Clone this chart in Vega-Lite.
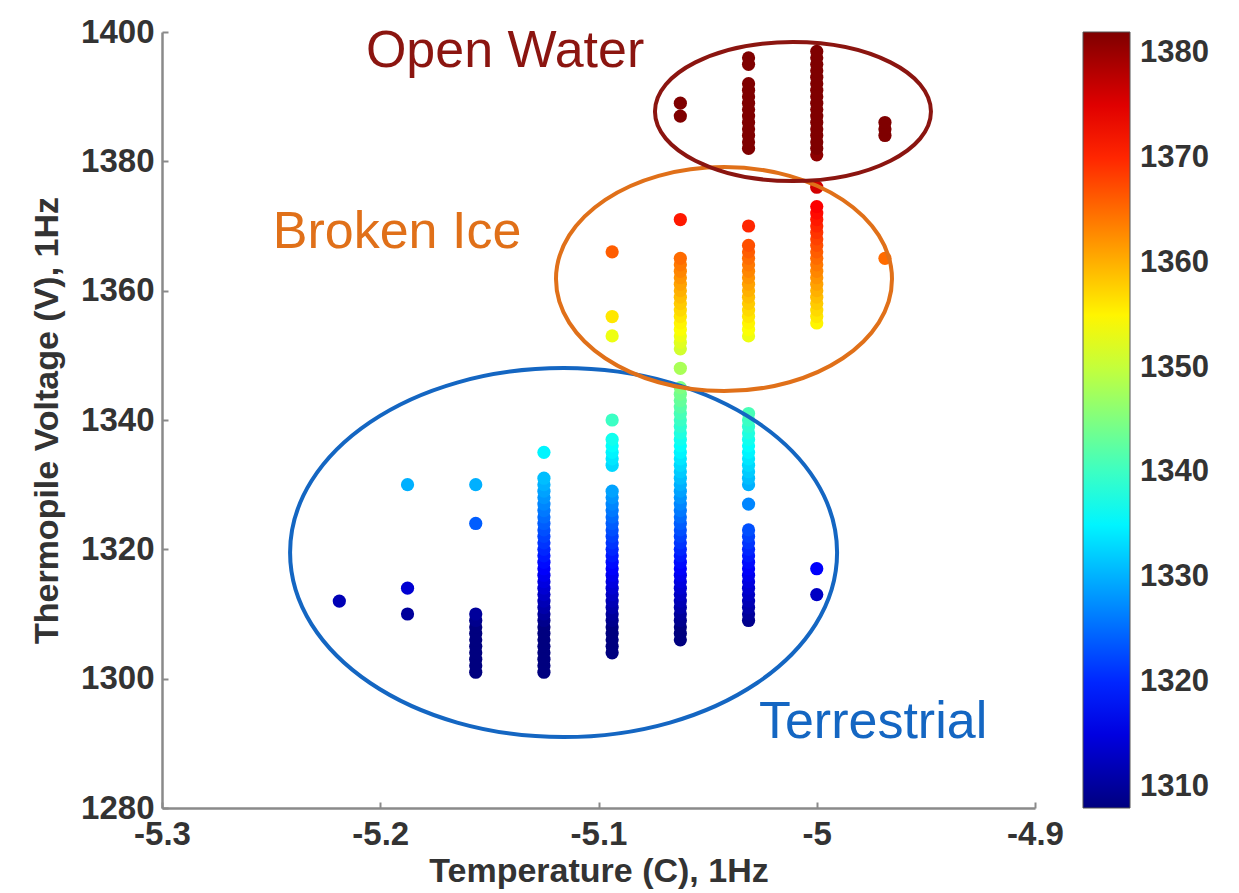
{
  "$schema": "https://vega.github.io/schema/vega-lite/v6.json",
  "width": 873,
  "height": 776,
  "autosize": {"type": "none"},
  "padding": {"left": 162, "top": 32, "right": 204, "bottom": 85},
  "background": "white",
  "config": {
    "view": {"stroke": null},
    "font": "Liberation Sans",
    "axis": {
      "grid": false,
      "labelFlush": false,
      "domainColor": "#8a8a8a",
      "domainWidth": 2.5,
      "tickColor": "#8a8a8a",
      "tickWidth": 2,
      "tickSize": -6,
      "labelFont": "Liberation Sans",
      "labelFontWeight": "bold",
      "labelFontSize": 33,
      "labelColor": "#333333",
      "titleFont": "Liberation Sans",
      "titleFontWeight": "bold",
      "titleFontSize": 34,
      "titleColor": "#333333"
    }
  },
  "datasets": {
    "points": [
      {"t": -5.21875, "v": 1312},
      {"t": -5.1875, "v": 1310}, {"t": -5.1875, "v": 1314}, {"t": -5.1875, "v": 1330},
      {"t": -5.15625, "v": 1301}, {"t": -5.15625, "v": 1302}, {"t": -5.15625, "v": 1303}, {"t": -5.15625, "v": 1304}, {"t": -5.15625, "v": 1305},
      {"t": -5.15625, "v": 1306}, {"t": -5.15625, "v": 1307}, {"t": -5.15625, "v": 1308}, {"t": -5.15625, "v": 1309}, {"t": -5.15625, "v": 1310},
      {"t": -5.15625, "v": 1324}, {"t": -5.15625, "v": 1330},
      {"t": -5.125, "v": 1301}, {"t": -5.125, "v": 1302}, {"t": -5.125, "v": 1303}, {"t": -5.125, "v": 1304}, {"t": -5.125, "v": 1305},
      {"t": -5.125, "v": 1306}, {"t": -5.125, "v": 1307}, {"t": -5.125, "v": 1308}, {"t": -5.125, "v": 1309}, {"t": -5.125, "v": 1310},
      {"t": -5.125, "v": 1311}, {"t": -5.125, "v": 1312}, {"t": -5.125, "v": 1313}, {"t": -5.125, "v": 1314}, {"t": -5.125, "v": 1315},
      {"t": -5.125, "v": 1316}, {"t": -5.125, "v": 1317}, {"t": -5.125, "v": 1318}, {"t": -5.125, "v": 1319}, {"t": -5.125, "v": 1320},
      {"t": -5.125, "v": 1321}, {"t": -5.125, "v": 1322}, {"t": -5.125, "v": 1323}, {"t": -5.125, "v": 1324}, {"t": -5.125, "v": 1325},
      {"t": -5.125, "v": 1326}, {"t": -5.125, "v": 1327}, {"t": -5.125, "v": 1328}, {"t": -5.125, "v": 1329}, {"t": -5.125, "v": 1330},
      {"t": -5.125, "v": 1331}, {"t": -5.125, "v": 1335},
      {"t": -5.09375, "v": 1304}, {"t": -5.09375, "v": 1305}, {"t": -5.09375, "v": 1306}, {"t": -5.09375, "v": 1307}, {"t": -5.09375, "v": 1308},
      {"t": -5.09375, "v": 1309}, {"t": -5.09375, "v": 1310}, {"t": -5.09375, "v": 1311}, {"t": -5.09375, "v": 1312}, {"t": -5.09375, "v": 1313},
      {"t": -5.09375, "v": 1314}, {"t": -5.09375, "v": 1315}, {"t": -5.09375, "v": 1316}, {"t": -5.09375, "v": 1317}, {"t": -5.09375, "v": 1318},
      {"t": -5.09375, "v": 1319}, {"t": -5.09375, "v": 1320}, {"t": -5.09375, "v": 1321}, {"t": -5.09375, "v": 1322}, {"t": -5.09375, "v": 1323},
      {"t": -5.09375, "v": 1324}, {"t": -5.09375, "v": 1325}, {"t": -5.09375, "v": 1326}, {"t": -5.09375, "v": 1327}, {"t": -5.09375, "v": 1328},
      {"t": -5.09375, "v": 1329}, {"t": -5.09375, "v": 1333}, {"t": -5.09375, "v": 1334}, {"t": -5.09375, "v": 1335}, {"t": -5.09375, "v": 1336},
      {"t": -5.09375, "v": 1337}, {"t": -5.09375, "v": 1340}, {"t": -5.09375, "v": 1353}, {"t": -5.09375, "v": 1356}, {"t": -5.09375, "v": 1366},
      {"t": -5.0625, "v": 1306}, {"t": -5.0625, "v": 1307}, {"t": -5.0625, "v": 1308}, {"t": -5.0625, "v": 1309}, {"t": -5.0625, "v": 1310},
      {"t": -5.0625, "v": 1311}, {"t": -5.0625, "v": 1312}, {"t": -5.0625, "v": 1313}, {"t": -5.0625, "v": 1314}, {"t": -5.0625, "v": 1315},
      {"t": -5.0625, "v": 1316}, {"t": -5.0625, "v": 1317}, {"t": -5.0625, "v": 1318}, {"t": -5.0625, "v": 1319}, {"t": -5.0625, "v": 1320},
      {"t": -5.0625, "v": 1321}, {"t": -5.0625, "v": 1322}, {"t": -5.0625, "v": 1323}, {"t": -5.0625, "v": 1324}, {"t": -5.0625, "v": 1325},
      {"t": -5.0625, "v": 1326}, {"t": -5.0625, "v": 1327}, {"t": -5.0625, "v": 1328}, {"t": -5.0625, "v": 1329}, {"t": -5.0625, "v": 1330},
      {"t": -5.0625, "v": 1331}, {"t": -5.0625, "v": 1332}, {"t": -5.0625, "v": 1333}, {"t": -5.0625, "v": 1334}, {"t": -5.0625, "v": 1335},
      {"t": -5.0625, "v": 1336}, {"t": -5.0625, "v": 1337}, {"t": -5.0625, "v": 1338}, {"t": -5.0625, "v": 1339}, {"t": -5.0625, "v": 1340},
      {"t": -5.0625, "v": 1341}, {"t": -5.0625, "v": 1342}, {"t": -5.0625, "v": 1343}, {"t": -5.0625, "v": 1344}, {"t": -5.0625, "v": 1345},
      {"t": -5.0625, "v": 1348}, {"t": -5.0625, "v": 1351}, {"t": -5.0625, "v": 1352}, {"t": -5.0625, "v": 1353}, {"t": -5.0625, "v": 1354},
      {"t": -5.0625, "v": 1355}, {"t": -5.0625, "v": 1356}, {"t": -5.0625, "v": 1357}, {"t": -5.0625, "v": 1358}, {"t": -5.0625, "v": 1359},
      {"t": -5.0625, "v": 1360}, {"t": -5.0625, "v": 1361}, {"t": -5.0625, "v": 1362}, {"t": -5.0625, "v": 1363}, {"t": -5.0625, "v": 1364},
      {"t": -5.0625, "v": 1365}, {"t": -5.0625, "v": 1371}, {"t": -5.0625, "v": 1387}, {"t": -5.0625, "v": 1389},
      {"t": -5.03125, "v": 1309}, {"t": -5.03125, "v": 1310}, {"t": -5.03125, "v": 1311}, {"t": -5.03125, "v": 1312}, {"t": -5.03125, "v": 1313},
      {"t": -5.03125, "v": 1314}, {"t": -5.03125, "v": 1315}, {"t": -5.03125, "v": 1316}, {"t": -5.03125, "v": 1317}, {"t": -5.03125, "v": 1318},
      {"t": -5.03125, "v": 1319}, {"t": -5.03125, "v": 1320}, {"t": -5.03125, "v": 1321}, {"t": -5.03125, "v": 1322}, {"t": -5.03125, "v": 1323},
      {"t": -5.03125, "v": 1327}, {"t": -5.03125, "v": 1330}, {"t": -5.03125, "v": 1331}, {"t": -5.03125, "v": 1332}, {"t": -5.03125, "v": 1333},
      {"t": -5.03125, "v": 1334}, {"t": -5.03125, "v": 1335}, {"t": -5.03125, "v": 1336}, {"t": -5.03125, "v": 1337}, {"t": -5.03125, "v": 1338},
      {"t": -5.03125, "v": 1339}, {"t": -5.03125, "v": 1340}, {"t": -5.03125, "v": 1341},
      {"t": -5.03125, "v": 1353}, {"t": -5.03125, "v": 1354}, {"t": -5.03125, "v": 1355}, {"t": -5.03125, "v": 1356}, {"t": -5.03125, "v": 1357},
      {"t": -5.03125, "v": 1358}, {"t": -5.03125, "v": 1359}, {"t": -5.03125, "v": 1360}, {"t": -5.03125, "v": 1361}, {"t": -5.03125, "v": 1362},
      {"t": -5.03125, "v": 1363}, {"t": -5.03125, "v": 1364}, {"t": -5.03125, "v": 1365}, {"t": -5.03125, "v": 1366}, {"t": -5.03125, "v": 1367},
      {"t": -5.03125, "v": 1370},
      {"t": -5.03125, "v": 1382}, {"t": -5.03125, "v": 1383}, {"t": -5.03125, "v": 1384}, {"t": -5.03125, "v": 1385}, {"t": -5.03125, "v": 1386},
      {"t": -5.03125, "v": 1387}, {"t": -5.03125, "v": 1388}, {"t": -5.03125, "v": 1389}, {"t": -5.03125, "v": 1390}, {"t": -5.03125, "v": 1391},
      {"t": -5.03125, "v": 1392}, {"t": -5.03125, "v": 1395}, {"t": -5.03125, "v": 1396},
      {"t": -5.0, "v": 1313}, {"t": -5.0, "v": 1317},
      {"t": -5.0, "v": 1355}, {"t": -5.0, "v": 1356}, {"t": -5.0, "v": 1357}, {"t": -5.0, "v": 1358}, {"t": -5.0, "v": 1359},
      {"t": -5.0, "v": 1360}, {"t": -5.0, "v": 1361}, {"t": -5.0, "v": 1362}, {"t": -5.0, "v": 1363}, {"t": -5.0, "v": 1364},
      {"t": -5.0, "v": 1365}, {"t": -5.0, "v": 1366}, {"t": -5.0, "v": 1367}, {"t": -5.0, "v": 1368}, {"t": -5.0, "v": 1369},
      {"t": -5.0, "v": 1370}, {"t": -5.0, "v": 1371}, {"t": -5.0, "v": 1372}, {"t": -5.0, "v": 1373}, {"t": -5.0, "v": 1376},
      {"t": -5.0, "v": 1381}, {"t": -5.0, "v": 1382}, {"t": -5.0, "v": 1383}, {"t": -5.0, "v": 1384}, {"t": -5.0, "v": 1385},
      {"t": -5.0, "v": 1386}, {"t": -5.0, "v": 1387}, {"t": -5.0, "v": 1388}, {"t": -5.0, "v": 1389}, {"t": -5.0, "v": 1390},
      {"t": -5.0, "v": 1391}, {"t": -5.0, "v": 1392}, {"t": -5.0, "v": 1393}, {"t": -5.0, "v": 1394}, {"t": -5.0, "v": 1395},
      {"t": -5.0, "v": 1396}, {"t": -5.0, "v": 1397},
      {"t": -4.96875, "v": 1365}, {"t": -4.96875, "v": 1384}, {"t": -4.96875, "v": 1385}, {"t": -4.96875, "v": 1386}
    ],
    "regions": [
      {"region": "Terrestrial", "ct": -5.116, "cv": 1319.5, "lt": -4.9742, "lv": 1290.8},
      {"region": "Broken Ice", "ct": -5.0425, "cv": 1361.8, "lt": -5.1923, "lv": 1366.6},
      {"region": "Open Water", "ct": -5.0109, "cv": 1387.7, "lt": -5.1428, "lv": 1394.6}
    ]
  },
  "layer": [
    {
      "data": {"name": "points"},
      "mark": {"type": "circle", "size": 175, "opacity": 1},
      "encoding": {
        "x": {
          "field": "t", "type": "quantitative",
          "scale": {"domain": [-5.3, -4.9], "nice": false, "zero": false},
          "axis": {
            "values": [-5.3, -5.2, -5.1, -5.0, -4.9],
            "labelExpr": "replace(format(datum.value, '.1~f'), '\u2212', '-')",
            "labelPadding": 16,
            "title": "Temperature (C), 1Hz",
            "titlePadding": 3
          }
        },
        "y": {
          "field": "v", "type": "quantitative",
          "scale": {"domain": [1280, 1400], "nice": false, "zero": false},
          "axis": {
            "values": [1280, 1300, 1320, 1340, 1360, 1380, 1400],
            "format": "d",
            "labelPadding": 14,
            "title": "Thermopile Voltage (V), 1Hz",
            "titlePadding": 16
          }
        },
        "color": {
          "field": "v", "type": "quantitative",
          "scale": {
            "domain": [1308, 1317.25, 1335.75, 1354.25, 1372.75, 1382],
            "range": ["#00007F", "#0000FF", "#00FFFF", "#FFFF00", "#FF0000", "#7F0000"],
            "interpolate": "rgb",
            "clamp": true
          },
          "legend": {
            "title": null,
            "orient": "right",
            "offset": 48,
            "padding": 0,
            "direction": "vertical",
            "gradientLength": 776,
            "gradientThickness": 47,
            "gradientStrokeColor": "#555555",
            "gradientStrokeWidth": 1,
            "values": [1310, 1320, 1330, 1340, 1350, 1360, 1370, 1380],
            "format": "d",
            "labelFont": "Liberation Sans",
            "labelFontWeight": "bold",
            "labelFontSize": 31,
            "labelColor": "#333333",
            "labelOffset": 10
          }
        }
      }
    },
    {
      "data": {"name": "regions"},
      "transform": [{"filter": "datum.region === 'Terrestrial'"}],
      "mark": {"type": "point", "filled": false, "shape": "M-1,0A1,0.6746,0,0,1,1,0A1,0.6746,0,0,1,-1,0Z", "size": 299209, "stroke": "#1466C2", "strokeWidth": 4, "opacity": 1},
      "encoding": {"x": {"field": "ct", "type": "quantitative"}, "y": {"field": "cv", "type": "quantitative"}}
    },
    {
      "data": {"name": "regions"},
      "transform": [{"filter": "datum.region === 'Broken Ice'"}],
      "mark": {"type": "point", "filled": false, "shape": "M-1,0A1,0.6667,0,0,1,1,0A1,0.6667,0,0,1,-1,0Z", "size": 112896, "stroke": "#E07019", "strokeWidth": 4, "opacity": 1},
      "encoding": {"x": {"field": "ct", "type": "quantitative"}, "y": {"field": "cv", "type": "quantitative"}}
    },
    {
      "data": {"name": "regions"},
      "transform": [{"filter": "datum.region === 'Open Water'"}],
      "mark": {"type": "point", "filled": false, "shape": "M-1,0A1,0.5036,0,0,1,1,0A1,0.5036,0,0,1,-1,0Z", "size": 76176, "stroke": "#8B1510", "strokeWidth": 4, "opacity": 1},
      "encoding": {"x": {"field": "ct", "type": "quantitative"}, "y": {"field": "cv", "type": "quantitative"}}
    },
    {
      "data": {"name": "regions"},
      "mark": {"type": "text", "font": "Liberation Sans", "fontSize": 52, "align": "center", "baseline": "alphabetic"},
      "encoding": {
        "x": {"field": "lt", "type": "quantitative"},
        "y": {"field": "lv", "type": "quantitative"},
        "text": {"field": "region"},
        "fill": {
          "field": "region", "type": "nominal",
          "scale": {"domain": ["Open Water", "Broken Ice", "Terrestrial"], "range": ["#8B1510", "#E07019", "#1466C2"]},
          "legend": null
        }
      }
    }
  ]
}
